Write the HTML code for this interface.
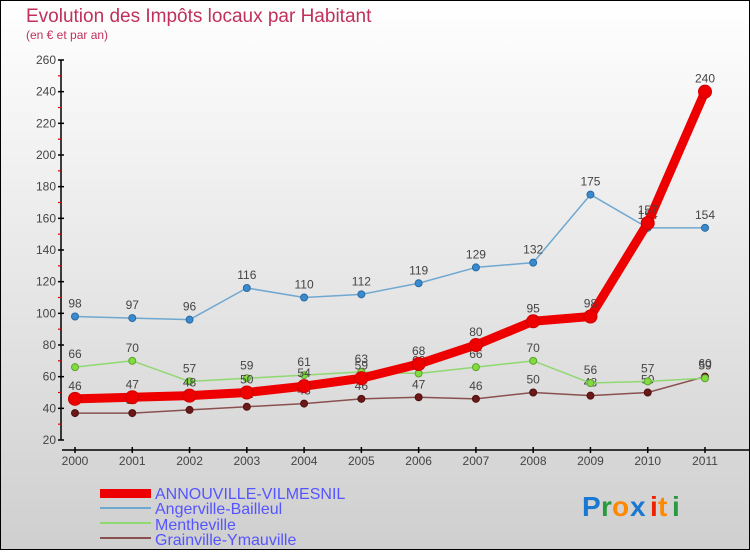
<!DOCTYPE html>
<html><head><meta charset="utf-8"><style>
html,body{margin:0;padding:0;}
body{width:750px;height:550px;overflow:hidden;font-family:"Liberation Sans",sans-serif;}
svg text{font-family:"Liberation Sans",sans-serif;}
</style></head><body>
<svg id="chart" width="750" height="550" viewBox="0 0 750 550" xmlns="http://www.w3.org/2000/svg">
<defs>
<linearGradient id="bg" x1="0" y1="0" x2="0" y2="1">
<stop offset="0" stop-color="#ffffff"/><stop offset="1" stop-color="#cfcfcf"/>
</linearGradient>
</defs>
<rect x="0.5" y="0.5" width="749" height="549" fill="url(#bg)" stroke="#000" stroke-width="1"/>
<text x="26" y="22" font-size="19" fill="#c0305a">Evolution des Impôts locaux par Habitant</text>
<text x="26" y="39" font-size="12" fill="#c0305a">(en € et par an)</text>
<g id="axes"></g>
<g id="series"></g>
<g id="legend">
<rect x="100" y="489" width="51" height="9" fill="#ee0000"/>
<text x="155" y="499" font-size="16" fill="#5555ff">ANNOUVILLE-VILMESNIL</text>
<line x1="100" y1="508" x2="151" y2="508" stroke="#6fa8d0" stroke-width="2"/>
<text x="155" y="514" font-size="16" fill="#5555ff">Angerville-Bailleul</text>
<line x1="100" y1="523" x2="151" y2="523" stroke="#90d870" stroke-width="2"/>
<text x="155" y="530" font-size="16" fill="#5555ff">Mentheville</text>
<line x1="100" y1="538" x2="151" y2="538" stroke="#8a5050" stroke-width="2"/>
<text x="155" y="545" font-size="16" fill="#5555ff">Grainville-Ymauville</text>
</g>
<g font-size="28" font-weight="bold">
<text x="582" y="516" fill="#1a78d0">P</text><text x="601" y="516" fill="#2a9a40">r</text><text x="612" y="516" fill="#ff8800">o</text><text x="630" y="516" fill="#1a78d0">x</text><text x="650" y="516" fill="#ee2200">i</text><text x="658" y="516" fill="#ff8800">t</text><text x="672" y="516" fill="#2a9a40">i</text>
</g>
</svg>
<script>
const years = ["2000","2001","2002","2003","2004","2005","2006","2007","2008","2009","2010","2011"];
const yTicks = [20,40,60,80,100,120,140,160,180,200,220,240,260];
const annouville = [46,47,48,50,54,59,68,80,95,98,157,240];
const angerville = [98,97,96,116,110,112,119,129,132,175,154,154];
const mentheville = [66,70,57,59,61,63,62,66,70,56,57,59];
const grainville = [37,37,39,41,43,46,47,46,50,48,50,60];

const NS="http://www.w3.org/2000/svg";
function xs(i){return 75 + i*(705-75)/(years.length-1);}
function ys(v){return 440 - (v-20)*(380/240);}
function mk(tag,attrs,parent){const e=document.createElementNS(NS,tag);for(const k in attrs)e.setAttribute(k,attrs[k]);parent.appendChild(e);return e;}
const axes=document.getElementById('axes');
const ser=document.getElementById('series');

const ya=mk('line',{x1:61,y1:ys(260),x2:61,y2:ys(20),stroke:'#000','stroke-width':1.5},axes);


yTicks.forEach((t,i)=>{
  const tk=mk('line',{x1:58,y1:ys(t),x2:64,y2:ys(t),stroke:'#000','stroke-width':1.5},axes);
  
  
  const lb=mk('text',{x:56,y:ys(t)+4,'font-size':12,fill:'#444','text-anchor':'end'},axes);
  lb.textContent=t;
  
  
  if(i<yTicks.length-1){
    const m=mk('line',{x1:58,y1:ys(t+10),x2:61,y2:ys(t+10),stroke:'#e00000','stroke-width':1.2},axes);
    
    
  }
});
const xa=mk('line',{x1:62,y1:450,x2:750,y2:450,stroke:'#000','stroke-width':1.5},axes);


years.forEach((y,i)=>{
  const tk=mk('line',{x1:xs(i),y1:447,x2:xs(i),y2:453,stroke:'#000','stroke-width':1.5},axes);
  
  
  const lb=mk('text',{x:xs(i),y:465,'font-size':12,fill:'#444','text-anchor':'middle'},axes);
  lb.textContent=y;
  
  
});

function drawSeries(name,data,color,width,r,dotFill,dotStroke){
  const g=mk('g',{},ser);
  
  
  const pts=data.map((v,i)=>xs(i)+','+ys(v)).join(' ');
  const pl=mk('polyline',{points:pts,fill:'none',stroke:color,'stroke-width':width,'stroke-linejoin':'round'},g);
  
  
  data.forEach((v,i)=>{
    const c=mk('circle',{cx:xs(i),cy:ys(v),r:r,fill:dotFill,stroke:dotStroke,'stroke-width':1},g);
    
    
    const t=mk('text',{x:xs(i),y:ys(v)-9,'font-size':12,fill:'#444','text-anchor':'middle'},g);
    t.textContent=v;
    
    
  });
}
drawSeries('grainville',grainville,'#8a5050',1.5,3.5,'#6a1818','#501010');
drawSeries('mentheville',mentheville,'#90d870',1.5,3.5,'#80dd40','#60a030');
drawSeries('angerville',angerville,'#6fa8d0',1.5,3.5,'#3a8ad0','#2a6aa0');
drawSeries('annouville',annouville,'#ee0000',9,6.5,'#ee0000','#cc0000');
</script>
</body></html>
